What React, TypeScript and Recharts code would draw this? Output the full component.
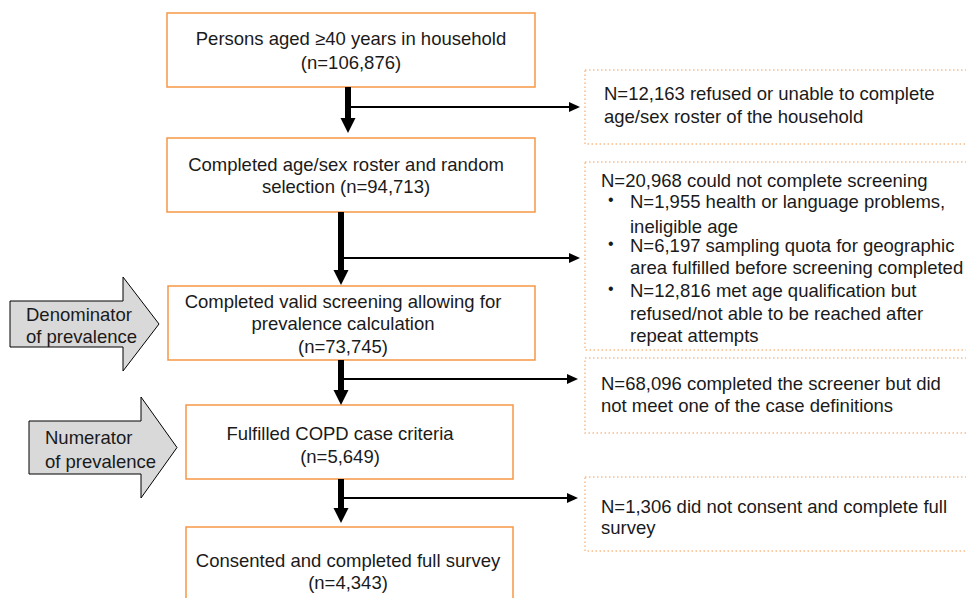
import React from 'react';
import { ComposedChart, XAxis, YAxis, Scatter, ReferenceArea, ReferenceLine } from 'recharts';

const W = 966;
const H = 598;
const FONT = '"Liberation Sans", Arial, sans-serif';
const FS = 18.5;
const INK = '#1a1a1a';

// main flow boxes
const stepLines = [
  ['Persons aged ≥40 years in household', '(n=106,876)'],
  ['Completed age/sex roster and random', 'selection (n=94,713)'],
  ['Completed valid screening allowing for', 'prevalence calculation', '(n=73,745)'],
  ['Fulfilled COPD case criteria', '(n=5,649)'],
  ['Consented and completed full survey', '(n=4,343)'],
];
const stepBoxX = [[167, 535], [167, 535], [168, 535], [186, 513], [186, 513]];
const stepBoxY = [[13, 87], [138, 212], [286, 360], [405, 479], [527, 612]];
const stepTextX = [351, 346, 343, 340, 348];
const stepTextY = [[38, 62], [164, 186], [301, 323, 346], [433, 456], [560, 582]];

// exclusion boxes: level 0 = plain, 1 = bullet, 2 = bullet continuation
const exclusionLines: [string, number][][] = [
  [['N=12,163 refused or unable to complete', 0], ['age/sex roster of the household', 0]],
  [
    ['N=20,968 could not complete screening', 0],
    ['N=1,955 health or language problems,', 1],
    ['ineligible age', 2],
    ['N=6,197 sampling quota for geographic', 1],
    ['area fulfilled before screening completed', 2],
    ['N=12,816 met age qualification but', 1],
    ['refused/not able to be reached after', 2],
    ['repeat attempts', 2],
  ],
  [['N=68,096 completed the screener but did', 0], ['not meet one of the case definitions', 0]],
  [['N=1,306 did not consent and complete full', 0], ['survey', 0]],
];
const exclusionBoxX = [585, 972];
const exclusionBoxY = [[70, 144], [162, 350], [358, 433], [477, 551]];
const exclusionTextX = [604, 601, 601, 601];
const exclusionTextY = [[93, 116], [180, 201, 226, 245, 267, 290, 313, 335], [383, 405], [506, 527]];
const bulletX = 608;
const bulletTextX = 630;

// connecting arrows
const flowX = [348, 341, 341, 341];
const flowTip = [133, 285, 405, 523];
const branchY = [107, 258, 379, 498];
const branchEnd = [580, 580, 578, 578];

// grey side arrows
const sideLabels = [['Denominator', 'of prevalence'], ['Numerator', 'of prevalence']];
const sideX = [[10, 159], [29, 177]];
const sideY = [[277, 371], [397, 498]];
const sideTextX = [26, 45];
const sideTextY = [[314, 336], [437, 461]];

const textRows = [
  ...stepLines.flatMap((lines, i) =>
    lines.map((t, j) => ({ x: stepTextX[i], y: stepTextY[i][j], text: t, anchor: 'middle', kind: 'text' }))
  ),
  ...exclusionLines.flatMap((lines, i) =>
    lines.flatMap(([t, lvl], j) => {
      const y = exclusionTextY[i][j];
      if (lvl === 0) return [{ x: exclusionTextX[i], y, text: t, anchor: 'start', kind: 'text' }];
      const rows = [{ x: bulletTextX, y, text: t, anchor: 'start', kind: 'text' }];
      if (lvl === 1) rows.push({ x: bulletX, y, text: '•', anchor: 'start', kind: 'bullet' });
      return rows;
    })
  ),
];

const headRows = [
  ...flowX.map((x, i) => ({ x, y: flowTip[i], dir: 'down' })),
  ...branchY.map((y, i) => ({ x: branchEnd[i], y, dir: 'right' })),
];

const TextMark = (props: any) => {
  const { cx, cy, payload } = props;
  const bullet = payload.kind === 'bullet';
  return (
    <text
      x={cx}
      y={bullet ? cy - 2 : cy}
      dy="0.36em"
      textAnchor={payload.anchor}
      fontFamily={FONT}
      fontSize={bullet ? 16 : FS}
      fill={INK}
    >
      {payload.text}
    </text>
  );
};

const HeadMark = (props: any) => {
  const { cx, cy, payload } = props;
  if (payload.dir === 'down') {
    return <polygon points={`${cx - 7.5},${cy - 15} ${cx + 7.5},${cy - 15} ${cx},${cy}`} fill="#000" />;
  }
  return <polygon points={`${cx - 11},${cy - 5} ${cx - 11},${cy + 5} ${cx},${cy}`} fill="#000" />;
};

const sideShape = (lines: string[], tx: number, ty: number[]) => (props: any) => {
  const { x, y, width, height } = props;
  const inset = 24;
  const head = 36;
  const bx = x + width - head;
  const pts = [
    [x, y + inset],
    [bx, y + inset],
    [bx, y],
    [x + width, y + height / 2],
    [bx, y + height],
    [bx, y + height - inset],
    [x, y + height - inset],
  ]
    .map((p) => p.join(','))
    .join(' ');
  return (
    <g>
      <polygon points={pts} fill="#d9d9d9" stroke="#000" strokeWidth={1} />
      {lines.map((t, i) => (
        <text key={t} x={tx} y={ty[i]} dy="0.36em" fontFamily={FONT} fontSize={FS} fill={INK}>
          {t}
        </text>
      ))}
    </g>
  );
};

export default function App() {
  return (
    <div style={{ position: 'absolute', left: 0, top: 0, width: W, height: H, background: '#fff' }}>
      <ComposedChart width={W} height={H} margin={{ top: 0, right: 0, bottom: 0, left: 0 }}>
        <XAxis type="number" dataKey="x" domain={[0, W]} hide allowDataOverflow />
        <YAxis type="number" dataKey="y" domain={[0, H]} reversed hide allowDataOverflow />

        {stepBoxX.map(([x1, x2], i) => (
          <ReferenceArea
            key={`step-${i}`}
            x1={x1}
            x2={x2}
            y1={stepBoxY[i][0]}
            y2={stepBoxY[i][1]}
            fill="none"
            fillOpacity={0}
            stroke="#f79646"
            strokeWidth={1.5}
            ifOverflow="visible"
          />
        ))}
        {exclusionBoxY.map(([y1, y2], i) => (
          <ReferenceArea
            key={`excl-${i}`}
            x1={exclusionBoxX[0]}
            x2={exclusionBoxX[1]}
            y1={y1}
            y2={y2}
            fill="none"
            fillOpacity={0}
            stroke="#f9bd8a"
            strokeWidth={1.5}
            strokeDasharray="1.5 2.5"
            ifOverflow="visible"
          />
        ))}
        {sideLabels.map((lines, i) => (
          <ReferenceArea
            key={`side-${i}`}
            x1={sideX[i][0]}
            x2={sideX[i][1]}
            y1={sideY[i][0]}
            y2={sideY[i][1]}
            ifOverflow="visible"
            shape={sideShape(lines, sideTextX[i], sideTextY[i])}
          />
        ))}

        {flowX.map((x, i) => (
          <ReferenceLine
            key={`shaft-${i}`}
            segment={[
              { x, y: stepBoxY[i][1] },
              { x, y: flowTip[i] - 12 },
            ]}
            stroke="#000"
            strokeWidth={6}
            ifOverflow="visible"
          />
        ))}
        {branchY.map((y, i) => (
          <ReferenceLine
            key={`branch-${i}`}
            segment={[
              { x: flowX[i], y },
              { x: branchEnd[i] - 9, y },
            ]}
            stroke="#000"
            strokeWidth={2}
            ifOverflow="visible"
          />
        ))}

        <Scatter data={headRows} shape={HeadMark} isAnimationActive={false} />
        <Scatter data={textRows} shape={TextMark} isAnimationActive={false} />
      </ComposedChart>
    </div>
  );
}
